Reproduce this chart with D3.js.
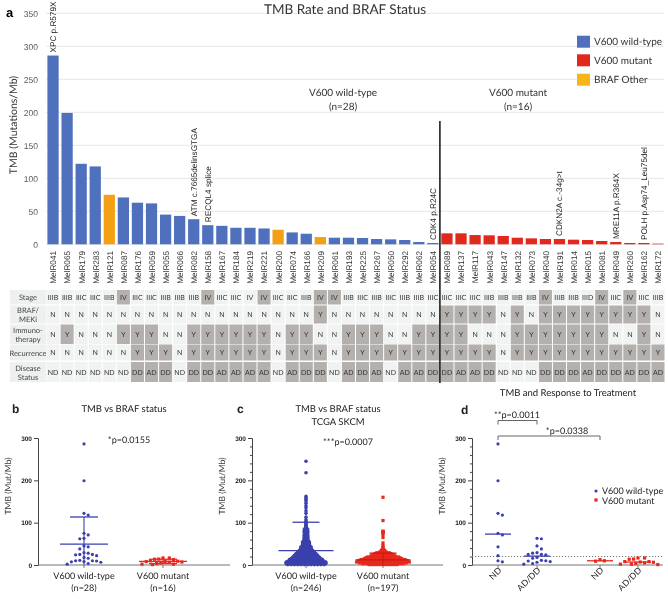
<!DOCTYPE html>
<html><head><meta charset="utf-8">
<script src="https://cdn.jsdelivr.net/npm/d3@7"></script>
<style>body{margin:0;background:#fff;} svg{display:block;will-change:transform;opacity:0.999;} text{text-rendering:geometricPrecision;}</style>
</head><body>
<script>
// ---------------- DATA ----------------
const samples = ["MelR041","MelR065","MelR179","MelR283","MelR121","MelR087","MelR176","MelR059","MelR055","MelR066","MelR082","MelR158","MelR167","MelR184","MelR219","MelR221","MelR200","MelR074","MelR166","MelR209","MelR061","MelR193","MelR225","MelR267","MelR050","MelR292","MelR062","MelR054",
"MelR089","MelR137","MelR117","MelR043","MelR147","MelR132","MelR073","MelR040","MelR191","MelR014","MelR015","MelR081","MelR049","MelR260","MelR162","MelR172"];
const brafStatus = ["WT","WT","WT","WT","OTHER","WT","WT","WT","WT","WT","WT","WT","WT","WT","WT","WT","OTHER","WT","WT","OTHER","WT","WT","WT","WT","WT","WT","WT","WT",
"MUT","MUT","MUT","MUT","MUT","MUT","MUT","MUT","MUT","MUT","MUT","MUT","MUT","MUT","MUT","MUT"];
const tmb = [286,199,122,118,75,71,63,62,45,43,38,29,28,25,25,24,22,18,16,11,10,10,9.5,8,7.5,6.5,3.5,2,
16.6,16.6,14,13.6,12.6,10,9,8,8,7,6.5,5,3.5,2,2,1];
const stage = ["IIIB","IIIB","IIIC","IIIC","IIIB","IV","IIIC","IIIC","IIIB","IIIB","IIIB","IV","IIIC","IIIC","IV","IV","IIIC","IIIC","IIIB","IV","IV","IIIB","IIIC","IIIB","IIIC","IIIB","IIIB","IIIC",
"IIIC","IIIC","IIIC","IIIB","IIIB","IIIB","IIIB","IV","IIIB","IIIB","IIID","IV","IIIC","IV","IIIC","IIIB"];
const stageUnshaded = ["MelR219"];
const brafMeki = ["N","N","N","N","N","N","N","N","N","N","N","N","N","N","N","N","N","N","N","Y","N","N","N","N","N","N","N","N",
"Y","Y","Y","Y","N","Y","N","Y","Y","Y","Y","Y","Y","Y","Y","N"];
const immuno = ["N","Y","N","N","N","Y","Y","Y","N","N","Y","Y","Y","Y","Y","Y","N","Y","Y","N","N","Y","Y","Y","N","N","Y","Y",
"Y","Y","N","N","N","Y","Y","Y","Y","Y","Y","Y","N","N","Y","N"];
const recurrence = ["N","N","N","N","N","N","Y","Y","Y","N","Y","Y","Y","Y","Y","Y","N","Y","Y","Y","N","Y","Y","Y","Y","Y","Y","Y",
"Y","Y","Y","Y","N","Y","Y","Y","Y","Y","Y","Y","Y","Y","Y","Y"];
const diseaseStatus = ["ND","ND","ND","ND","ND","ND","DD","AD","DD","ND","DD","DD","AD","AD","AD","AD","ND","AD","DD","DD","ND","AD","DD","AD","ND","AD","AD","DD",
"DD","AD","AD","DD","ND","ND","ND","DD","DD","DD","AD","DD","DD","AD","DD","AD"];
const annotSamples = ["MelR041","MelR082","MelR158","MelR054","MelR191","MelR049","MelR162"];
const annotTexts = ["XPC p.R579X","ATM c.7665delinsGTGA","RECQL4 splice","CDK4 p.R24C","CDKN2A c.-34g>t","MRE11A p.R364X","POLH p.Asp74_Leu75del"];
const tmbTicksA = [0,50,100,150,200,250,300,350];
const legendLabels = ["V600 wild-type","V600 mutant","BRAF Other"];
const tableRowLabels = [["Stage"],["BRAF/","MEKi"],["Immuno-","therapy"],["Recurrence"],["Disease","Status"]];

// TCGA SKCM (panel c): [TMB value, number of tumours]
const tcgaWT = [[1,12],[3,13],[5,13],[7,13],[9,12],[11,11],[13,11],[15,10],[17,9],[19,9],
[21,8],[23,8],[25,7],[27,7],[29,6],[31,6],[33,5],[35,5],[37,4],[39,4],
[41,4],[43,4],[45,3],[47,3],[49,3],[51,3],[53,3],[55,3],[57,2],[59,2],
[61,2],[63,2],[65,2],[67,2],[69,2],[71,2],[73,2],[75,1],[77,2],[79,2],
[81,2],[83,1],[85,2],[87,1],[89,1],[91,1],[93,1],[95,1],[97,1],[99,1],
[101,1],[103,1],[107,1],[113,1],[122,1],[128,1],[135,1],[140,1],[146,1],[151,1],[155,1],[158,1],[162,1],[218,1],[245,1]];
const tcgaMUT = [[1,10],[3,14],[5,16],[7,18],[9,17],[11,16],[13,15],[15,13],[17,12],[19,11],
[21,9],[23,8],[25,7],[27,6],[29,5],[31,3],[33,2],[35,2],[37,1],[39,1],
[42,1],[46,1],[52,1],[65,1],[72,1],[76,1],[78,1],[79,1],[80,1],[105,1],[160,1]];
const tcgaMean = [34, 12];
const tcgaSD = [67, 16];
const groupLabels = ["V600 wild-type","V600 mutant"];
const nB = ["(n=28)","(n=16)"];
const nC = ["(n=246)","(n=197)"];
const dCats = ["ND","AD/DD","ND","AD/DD"];
const yTicksSmall = [0,100,200,300];

// ---------------- SETUP ----------------
const W=668,H=599;
const svg=d3.select("body").append("svg").attr("width",W).attr("height",H);
svg.append("rect").attr("width",W).attr("height",H).attr("fill","#fff");
const CAL="Lato, 'Open Sans', sans-serif";
const ARI="'Liberation Sans', Arial, sans-serif";
const colBlue="#4f71bd", colRed="#e1281d", colOrange="#f4a014", colLegOther="#f8b616";
const ptBlue="#3b40ad", ptRed="#e8281e";
const barColor = s => s==="WT"?colBlue:(s==="MUT"?colRed:colOrange);

// ---------------- PANEL A ----------------
const xA=d3.scaleBand().domain(samples).range([46,665]).paddingInner(0.2).paddingOuter(0.1);
const yA=d3.scaleLinear().domain([0,350]).range([244.3,13.3]);
const gA=svg.append("g");
gA.selectAll("line.grid").data(tmbTicksA).join("line")
  .attr("x1",46).attr("x2",664).attr("y1",d=>yA(d)).attr("y2",d=>yA(d))
  .attr("stroke","#e6e6e6").attr("stroke-width",1);
const axA=gA.append("g").attr("transform","translate(44,0)")
  .call(d3.axisLeft(yA).tickValues(tmbTicksA).tickSize(0).tickPadding(6));
axA.select(".domain").remove();
axA.selectAll("text").attr("font-family",ARI).attr("font-size",8.5).attr("fill","#595959");
gA.append("text").attr("transform","translate(17,125) rotate(-90)").attr("text-anchor","middle")
  .attr("font-family",CAL).attr("font-size",10.5).attr("fill","#333").text("TMB (Mutations/Mb)");
gA.append("text").attr("x",6).attr("y",17).attr("font-family",ARI).attr("font-weight","bold").attr("font-size",13).text("a");
gA.append("text").attr("x",345).attr("y",14).attr("text-anchor","middle").attr("font-family",CAL).attr("font-size",13.5).attr("fill","#333").text("TMB Rate and BRAF Status");
gA.selectAll("rect.bar").data(samples).join("rect")
  .attr("x",d=>xA(d)).attr("width",xA.bandwidth())
  .attr("y",(d,i)=>yA(tmb[i])).attr("height",(d,i)=>yA(0)-yA(tmb[i]))
  .attr("fill",(d,i)=>barColor(brafStatus[i]));
gA.selectAll("text.samp").data(samples).join("text")
  .attr("transform",d=>`translate(${xA(d)+xA.bandwidth()/2+0.5},251) rotate(-90)`)
  .attr("text-anchor","end").attr("dy","0.35em").attr("font-family",ARI).attr("font-size",8.2).attr("fill","#333").text(d=>d);
annotSamples.forEach((s,k)=>{
  const i=samples.indexOf(s);
  gA.append("text").attr("transform",`translate(${xA(s)+xA.bandwidth()/2},${yA(tmb[i])-3}) rotate(-90)`)
    .attr("dy","0.35em").attr("font-family",ARI).attr("font-size",8.2).attr("fill","#222").text(annotTexts[k]);
});
const divX = xA("MelR089") - xA.step()*xA.paddingInner()/2;
[[343,"V600 wild-type","(n=28)"],[518,"V600 mutant","(n=16)"]].forEach(([x,a,b])=>{
  gA.append("text").attr("x",x).attr("y",95.5).attr("text-anchor","middle").attr("font-family",CAL).attr("font-size",10).attr("fill","#333").text(a);
  gA.append("text").attr("x",x).attr("y",110).attr("text-anchor","middle").attr("font-family",CAL).attr("font-size",10).attr("fill","#333").text(b);
});
const legCols=[colBlue,colRed,colLegOther];
legendLabels.forEach((l,i)=>{
  const cy=[41.7,60.3,79.7][i];
  gA.append("rect").attr("x",577).attr("y",cy-6).attr("width",13).attr("height",12).attr("fill",legCols[i]);
  gA.append("text").attr("x",594).attr("y",cy+3.5).attr("font-family",CAL).attr("font-size",10).attr("fill","#333").text(l);
});
// table
const rowTop=[290,305.5,324.5,344.5,362], rowH=[14.5,18,19.5,16,20];
const rowsData=[stage,brafMeki,immuno,recurrence,diseaseStatus];
const shadeFn=[(v,s)=>v==="IV"&&!stageUnshaded.includes(s),v=>v==="Y",v=>v==="Y",v=>v==="Y",v=>v!=="ND"];
const gT=gA.append("g");
rowsData.forEach((vals,r)=>{
  gT.append("rect").attr("x",10).attr("y",rowTop[r]).attr("width",36).attr("height",rowH[r]).attr("fill","#eef0ef");
  const lines=tableRowLabels[r];
  lines.forEach((t,j)=>{
    gT.append("text").attr("x",28).attr("y",rowTop[r]+rowH[r]/2+3+(j-(lines.length-1)/2)*9)
      .attr("text-anchor","middle").attr("font-family",CAL).attr("font-size",7.5).attr("fill","#444").text(t);
  });
  samples.forEach((s,i)=>{
    const x0=xA(s)-xA.step()*xA.paddingInner()/2;
    const sh=shadeFn[r](vals[i],s);
    gT.append("rect").attr("x",x0+0.5).attr("y",rowTop[r]).attr("width",xA.step()-1).attr("height",rowH[r])
      .attr("fill",sh?"#b4b0ae":"#f1f3f2");
    gT.append("text").attr("x",x0+xA.step()/2).attr("y",rowTop[r]+rowH[r]/2+2.6).attr("text-anchor","middle")
      .attr("font-family",CAL).attr("font-size",7).attr("fill","#333").text(vals[i]);
  });
});
gA.append("line").attr("x1",divX).attr("x2",divX).attr("y1",121).attr("y2",383).attr("stroke","#111").attr("stroke-width",1.5);

// ---------------- SMALL PANELS helpers ----------------
const yS=d3.scaleLinear().domain([0,300]).range([565,438]);
function drawAxes(g,x0,x1,minor,centers){
  const ax=g.append("g").attr("transform",`translate(${x0},0)`).call(d3.axisLeft(yS).tickValues(yTicksSmall).tickSize(4).tickPadding(2));
  ax.select(".domain").attr("stroke","#444");
  ax.selectAll("line").attr("stroke","#444");
  ax.selectAll("text").attr("font-family",ARI).attr("font-weight","bold").attr("font-size",6.5).attr("fill","#222");
  if(minor){
    const mv=d3.range(20,300,20).filter(v=>v%100!==0);
    const am=g.append("g").attr("transform",`translate(${x0},0)`).call(d3.axisLeft(yS).tickValues(mv).tickSize(2).tickFormat(""));
    am.select(".domain").remove(); am.selectAll("line").attr("stroke","#444");
  }
  g.append("line").attr("x1",x0).attr("x2",x1).attr("y1",yS(0)).attr("y2",yS(0)).attr("stroke","#777").attr("stroke-width",1.2);
  centers.forEach(c=>g.append("line").attr("x1",c).attr("x2",c).attr("y1",yS(0)).attr("y2",yS(0)+3).attr("stroke","#777"));
  g.append("text").attr("transform",`translate(${x0-27},486) rotate(-90)`).attr("text-anchor","middle")
    .attr("font-family",CAL).attr("font-size",8.5).attr("fill","#333").text("TMB (Mut/Mb)");
}
function swarm(vals,cx,diam,step){
  const placed=[];
  vals.map(v=>({v})).sort((a,b)=>b.v-a.v).forEach(p=>{
    const y=yS(p.v); let x=cx;
    for(let i=0;i<200;i++){
      const off=(i===0?0:(i%2?1:-1)*Math.ceil(i/2))*step;
      x=cx+off;
      if(!placed.some(q=>(q.x-x)**2+(q.y-y)**2<diam*diam)) break;
    }
    p.x=x;p.y=y;placed.push(p);
  });
  return placed;
}
function drawPoints(g,pts,col,square,r){
  if(square){
    g.selectAll(null).data(pts).join("rect").attr("x",d=>d.x-r).attr("y",d=>d.y-r).attr("width",2*r).attr("height",2*r).attr("fill",col);
  } else {
    g.selectAll(null).data(pts).join("circle").attr("cx",d=>d.x).attr("cy",d=>d.y).attr("r",r).attr("fill",col);
  }
}
function meanBar(g,cx,m,sd,col,w,cap){
  g.append("line").attr("x1",cx-w/2).attr("x2",cx+w/2).attr("y1",yS(m)).attr("y2",yS(m)).attr("stroke",col).attr("stroke-width",1.3);
  if(sd!=null){
    const lo=Math.max(0,m-sd), hi=m+sd;
    g.append("line").attr("x1",cx).attr("x2",cx).attr("y1",yS(lo)).attr("y2",yS(hi)).attr("stroke",col).attr("stroke-width",1.1);
    g.append("line").attr("x1",cx-cap/2).attr("x2",cx+cap/2).attr("y1",yS(hi)).attr("y2",yS(hi)).attr("stroke",col).attr("stroke-width",1.3);
    if(m-sd>0) g.append("line").attr("x1",cx-cap/2).attr("x2",cx+cap/2).attr("y1",yS(lo)).attr("y2",yS(lo)).attr("stroke",col).attr("stroke-width",1.3);
  }
}
const txt=(g,x,y,t,o={})=>g.append("text").attr("x",x).attr("y",y).attr("text-anchor",o.anchor||"middle")
  .attr("font-family",o.font||CAL).attr("font-size",o.size||9).attr("font-weight",o.weight||"normal").attr("fill",o.fill||"#222").text(t);

const wtVals=tmb.filter((v,i)=>brafStatus[i]!=="MUT");
const mutVals=tmb.filter((v,i)=>brafStatus[i]==="MUT");

// ---------------- PANEL B ----------------
const gB=svg.append("g");
const cB=[84,163];
txt(gB,12,413,"b",{anchor:"start",font:ARI,weight:"bold",size:12});
txt(gB,124,412,"TMB vs BRAF status",{size:9.5});
drawAxes(gB,38,230,false,cB);
drawPoints(gB,swarm(wtVals,cB[0],4.2,2.1),ptBlue,false,1.6);
drawPoints(gB,swarm(mutVals,cB[1],4.2,2.1),ptRed,true,1.6);
[wtVals,mutVals].forEach((vals,k)=>{
  meanBar(gB,cB[k],d3.mean(vals),d3.deviation(vals),k?ptRed:ptBlue,48,28);
});
txt(gB,129,442.5,"*p=0.0155",{size:9});
groupLabels.forEach((l,k)=>{txt(gB,cB[k],579,l,{size:9});txt(gB,cB[k],591,nB[k],{size:9});});

// ---------------- PANEL C ----------------
const gC=svg.append("g");
const cC=[306,383];
txt(gC,237,413,"c",{anchor:"start",font:ARI,weight:"bold",size:12});
txt(gC,338,412,"TMB vs BRAF status",{size:9.5});
txt(gC,338,425,"TCGA SKCM",{size:9.5});
drawAxes(gC,252,443,true,cC);
function rowPts(bins,cx,sp){
  const out=[];
  bins.forEach(([v,n])=>{for(let i=0;i<n;i++) out.push({x:cx+(i-(n-1)/2)*sp,y:yS(v)});});
  return out;
}
drawPoints(gC,rowPts(tcgaWT,cC[0],3.3),ptBlue,false,1.8);
drawPoints(gC,rowPts(tcgaMUT,cC[1],3.1),ptRed,true,1.6);
meanBar(gC,cC[0],tcgaMean[0],tcgaSD[0],ptBlue,55,27);
meanBar(gC,cC[1],tcgaMean[1],tcgaSD[1],"#c81a12",55,27);
txt(gC,348,445,"***p=0.0007",{size:9});
groupLabels.forEach((l,k)=>{txt(gC,cC[k],579,l,{size:9});txt(gC,cC[k],591,nC[k],{size:9});});

// ---------------- PANEL D ----------------
const gD=svg.append("g");
const cD=[498,537,600,638];
txt(gD,568,396,"TMB and Response to Treatment",{size:9.5});
txt(gD,461,414,"d",{anchor:"start",font:ARI,weight:"bold",size:12});
drawAxes(gD,472,663,true,cD);
gD.append("line").attr("x1",472).attr("x2",663).attr("y1",yS(20)).attr("y2",yS(20)).attr("stroke","#777").attr("stroke-dasharray","1.2,1.8");
const dGroups=[
  tmb.filter((v,i)=>brafStatus[i]!=="MUT"&&diseaseStatus[i]==="ND"),
  tmb.filter((v,i)=>brafStatus[i]!=="MUT"&&diseaseStatus[i]!=="ND"),
  tmb.filter((v,i)=>brafStatus[i]==="MUT"&&diseaseStatus[i]==="ND"),
  tmb.filter((v,i)=>brafStatus[i]==="MUT"&&diseaseStatus[i]!=="ND")];
dGroups.forEach((vals,k)=>{
  const mut=k>=2;
  meanBar(gD,cD[k],d3.median(vals),null,mut?ptRed:ptBlue,26,0);
  drawPoints(gD,swarm(vals,cD[k],4.4,2.2),mut?ptRed:ptBlue,mut,1.6);
});
dCats.forEach((c,k)=>{
  gD.append("text").attr("transform",`translate(${cD[k]+4},571) rotate(-45)`).attr("text-anchor","end")
    .attr("font-family",CAL).attr("font-size",8.5).attr("fill","#222").text(c);
});
function bracket(x1,x2,y,label,tx,ty){
  gD.append("path").attr("d",`M${x1},${y+4}V${y}H${x2}V${y+4}`).attr("fill","none").attr("stroke","#666").attr("stroke-width",1);
  txt(gD,tx,ty,label,{size:9});
}
bracket(498,537,420.5,"**p=0.0011",517,418);
bracket(498,600,436,"*p=0.0338",567,433.5);
gD.append("circle").attr("cx",596).attr("cy",491).attr("r",1.6).attr("fill",ptBlue);
gD.append("rect").attr("x",594.4).attr("y",498.4).attr("width",3.2).attr("height",3.2).attr("fill",ptRed);
txt(gD,602,494,"V600 wild-type",{anchor:"start",size:9});
txt(gD,602,503.5,"V600 mutant",{anchor:"start",size:9});
</script>
</body></html>
